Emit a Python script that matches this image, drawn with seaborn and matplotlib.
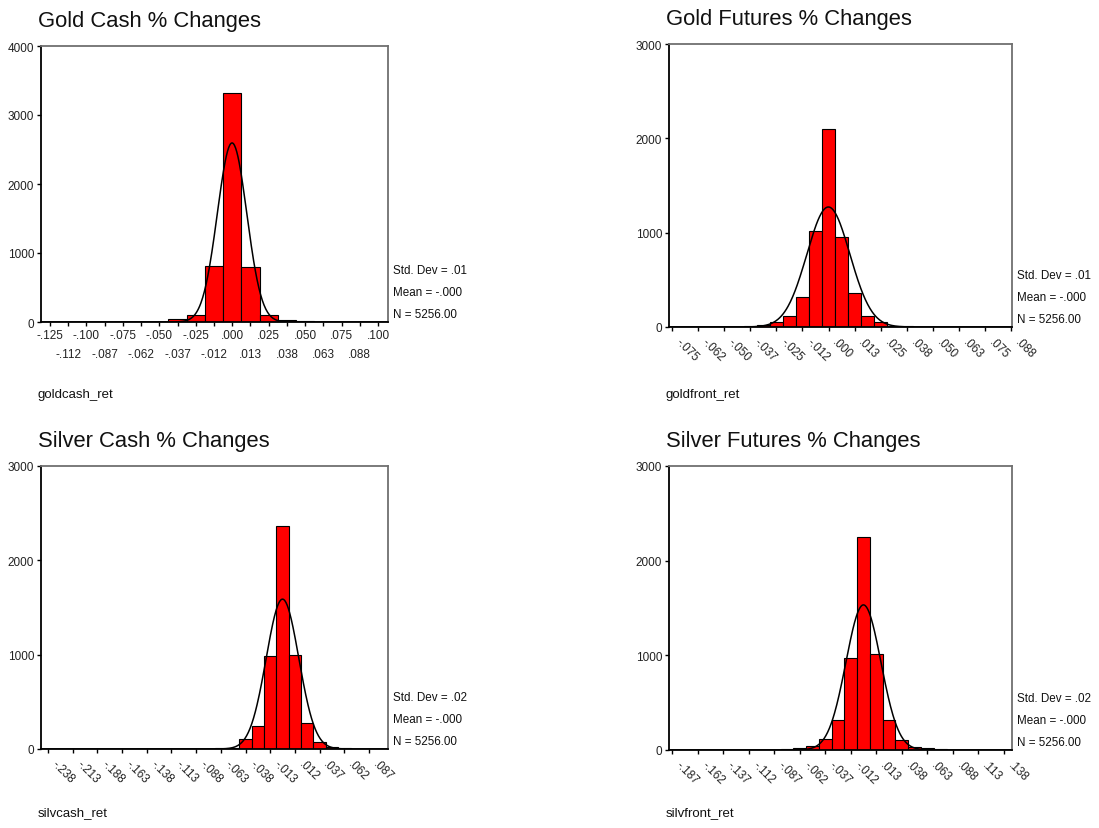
import numpy as np
import matplotlib
matplotlib.use("Agg")
import matplotlib.pyplot as plt
import seaborn as sns

sns.set_style("white")
plt.rcParams['font.family'] = ['Liberation Sans', 'DejaVu Sans']

N_OBS = 5256

# --- gold cash: bins .0125 wide, centred from -.125 to .100
gc_first = -0.125
gc_width = 0.0125
gc_counts = [1, 0, 0, 0, 0, 1, 6, 38, 100, 812, 3320, 800, 98, 35, 15, 3, 1, 0, 1]
gc_sd = 0.0101
gc_mean = -0.0001
gc_labels_top = ["-.125", "-.100", "-.075", "-.050", "-.025", ".000", ".025", ".050", ".075", ".100"]
gc_labels_bottom = ["-.112", "-.087", "-.062", "-.037", "-.012", ".013", ".038", ".063", ".088"]

# --- gold futures: bins .00625 wide, centred from -.075 to .0875
gf_first = -0.075
gf_width = 0.00625
gf_counts = [1, 0, 1, 2, 4, 3, 8, 25, 55, 117, 318, 1018, 2095,
             954, 360, 117, 55, 15, 8, 5, 3, 2, 1, 1, 0, 1, 1]
gf_sd = 0.0103
gf_mean = -0.0001
gf_labels = ["-.075", "-.062", "-.050", "-.037", "-.025", "-.012", ".000",
             ".013", ".025", ".038", ".050", ".063", ".075", ".088"]

# --- silver cash: bins .0125 wide, centred from -.2375 to .100
sc_first = -0.2375
sc_width = 0.0125
sc_counts = [1, 0, 0, 0, 1, 0, 0, 0, 1, 0, 0, 2, 3, 5, 8, 15, 106, 244, 986,
             2365, 997, 276, 74, 25, 8, 3, 1, 1]
sc_sd = 0.0165
sc_mean = -0.0001
sc_labels = ["-.238", "-.213", "-.188", "-.163", "-.138", "-.113", "-.088",
             "-.063", "-.038", "-.013", ".012", ".037", ".062", ".087"]

# --- silver futures: bins .0125 wide, centred from -.1875 to .1375
sf_first = -0.1875
sf_width = 0.0125
sf_counts = [1, 0, 0, 1, 0, 1, 0, 2, 5, 10, 21, 42, 116, 317, 971,
             2250, 1014, 317, 106, 32, 21, 8, 4, 2, 1, 0, 1]
sf_sd = 0.0171
sf_mean = -0.0001
sf_labels = ["-.187", "-.162", "-.137", "-.112", "-.087", "-.062", "-.037",
             "-.012", ".013", ".038", ".063", ".088", ".113", ".138"]

panels = [
    dict(title="Gold Cash % Changes", var="goldcash_ret", first=gc_first, width=gc_width,
         counts=gc_counts, sd=gc_sd, mean=gc_mean, sd_txt=".01",
         pos=(41, 47, 347, 276), xlim=(-0.1312, 0.1069), ymax=4000, var_y=395),
    dict(title="Gold Futures % Changes", var="goldfront_ret", first=gf_first, width=gf_width,
         counts=gf_counts, sd=gf_sd, mean=gf_mean, sd_txt=".01",
         pos=(669, 45, 343, 283), xlim=(-0.0764, 0.0878), ymax=3000, var_y=395,
         labels=gf_labels),
    dict(title="Silver Cash % Changes", var="silvcash_ret", first=sc_first, width=sc_width,
         counts=sc_counts, sd=sc_sd, mean=sc_mean, sd_txt=".02",
         pos=(41, 467, 347, 283), xlim=(-0.2446, 0.1067), ymax=3000, var_y=813,
         labels=sc_labels),
    dict(title="Silver Futures % Changes", var="silvfront_ret", first=sf_first, width=sf_width,
         counts=sf_counts, sd=sf_sd, mean=sf_mean, sd_txt=".02",
         pos=(669, 467, 343, 284), xlim=(-0.1904, 0.1453), ymax=3000, var_y=813,
         labels=sf_labels),
]

W, H = 1099, 829
fig = plt.figure(figsize=(W / 100, H / 100), dpi=100)

for i, p in enumerate(panels):
    left, top, w, h = p["pos"]
    ax = fig.add_axes([left / W, 1 - (top + h) / H, w / W, h / H])

    counts = np.array(p["counts"])
    centers = p["first"] + p["width"] * np.arange(len(counts))
    lo = p["first"] - p["width"] / 2
    hi = centers[-1] + p["width"] / 2
    sns.histplot(x=centers, weights=counts, binwidth=p["width"], binrange=(lo, hi),
                 color="#ff0000", edgecolor="black", linewidth=0.8, alpha=1, ax=ax)

    # fitted normal curve from the reported mean / std dev / N
    xs = np.linspace(p["xlim"][0], p["xlim"][1], 600)
    ys = N_OBS * p["width"] * np.exp(-0.5 * ((xs - p["mean"]) / p["sd"]) ** 2) / (p["sd"] * np.sqrt(2 * np.pi))
    sns.lineplot(x=xs, y=ys, color="black", linewidth=1.1, ax=ax)

    ax.set_xlim(*p["xlim"])
    ax.set_ylim(0, p["ymax"])
    ax.set_yticks(np.arange(0, p["ymax"] + 1, 1000))
    ax.set_yticklabels([str(v) for v in range(0, p["ymax"] + 1, 1000)], fontsize=8.5)
    ax.set_xlabel("")
    ax.set_ylabel("")

    # tick positions sit on bin centres
    if i == 0:
        tick_vals = p["first"] + p["width"] * np.arange(len(counts))
        ax.set_xticks(tick_vals[::2])
        ax.set_xticklabels(gc_labels_top, fontsize=8.5)
        ax.set_xticks(tick_vals[1::2], minor=True)
        ax.set_xticklabels(gc_labels_bottom, minor=True, fontsize=8.5)
        ax.tick_params(axis="x", which="major", pad=2)
        ax.tick_params(axis="x", which="minor", pad=16)
    else:
        n_lab = len(p["labels"])
        step = 0.025 if p["width"] == 0.0125 else 0.0125
        tick_vals = p["first"] + step * np.arange(n_lab)
        ax.set_xticks(tick_vals)
        ax.set_xticklabels([])
        # SPSS style slanted labels hanging just right of each tick
        for tv, lab in zip(tick_vals, p["labels"]):
            ax.annotate(lab, xy=(tv, 0), xycoords=("data", "axes fraction"),
                        xytext=(10, -9), textcoords="offset pixels", fontsize=8.5,
                        rotation=-45, ha="left", va="top", rotation_mode="anchor",
                        color="#222222", annotation_clip=False)

    ax.tick_params(axis="both", which="both", direction="out", length=3, width=1,
                   color="black", bottom=True, left=True, labelcolor="#222222")
    ax.tick_params(axis="y", pad=2)

    for s in ["left", "bottom"]:
        ax.spines[s].set_color("black")
        ax.spines[s].set_linewidth(1.3)
    for s in ["top", "right"]:
        ax.spines[s].set_color("#707070")
        ax.spines[s].set_linewidth(1.3)
    ax.grid(False)

    stats = [("Std. Dev = " + p["sd_txt"], 52), ("Mean = -.000", 30), ("N = 5256.00", 8)]
    for txt, dy in stats:
        ax.annotate(txt, xy=(1, 0), xycoords="axes fraction", xytext=(5, dy),
                    textcoords="offset pixels", fontsize=8.4, va="center", ha="left",
                    color="#111111")

    fig.text((left - 3) / W, 1 - (top - 26) / H, p["title"], fontsize=15.8,
             va="center", ha="left", color="#111111")
    fig.text((left - 3) / W, 1 - p["var_y"] / H, p["var"], fontsize=9.5,
             va="center", ha="left", color="#111111")

fig.savefig("out.png", dpi=100, facecolor="white")
